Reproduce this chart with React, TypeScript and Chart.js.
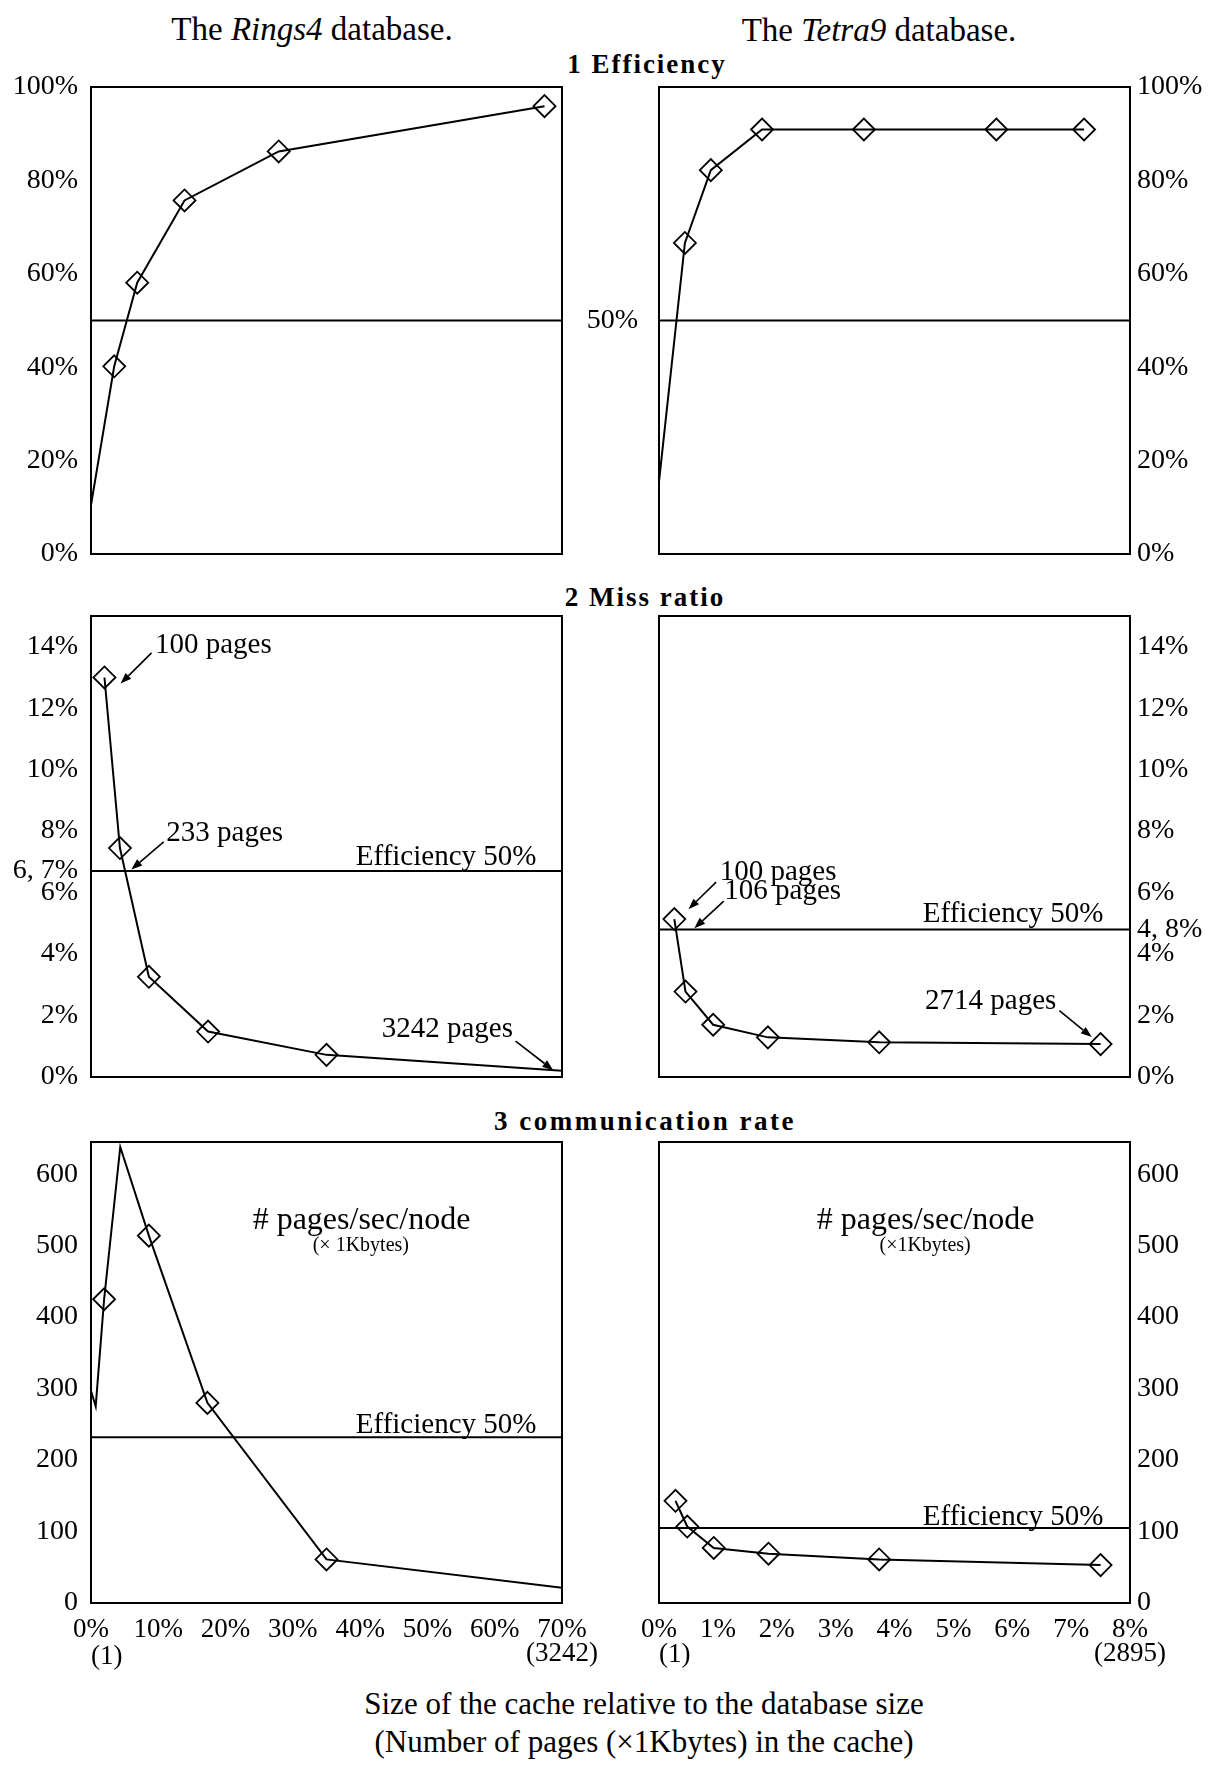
import React, { useEffect, useRef } from 'react';
import { Chart, registerables } from 'chart.js';

Chart.register(...registerables);

const SERIF = "'Liberation Serif', 'Times New Roman', serif";
const INK = '#000';

// ---------- Rings4 database (left column); x = cache size in % of database ----------
const rings4EffX = [0, 3.45, 6.87, 13.9, 27.9, 67.4];
const rings4EffY = [10.5, 40.2, 58.1, 75.7, 86.2, 95.9];
const rings4EffMarks = [false, true, true, true, true, true];

const rings4MissX = [2.0, 4.3, 8.6, 17.4, 35.0, 70];
const rings4MissY = [13.0, 7.45, 3.26, 1.48, 0.72, 0.2];
const rings4MissMarks = [true, true, true, true, true, false];

const rings4CommX = [0, 0.7, 1.95, 4.35, 8.6, 17.3, 35.0, 70];
const rings4CommY = [297, 275, 425, 638, 514, 280, 61, 21.5];
const rings4CommMarks = [false, false, true, false, true, true, true, false];

// ---------- Tetra9 database (right column) ----------
const tetra9EffX = [0, 0.44, 0.88, 1.75, 3.48, 5.73, 7.22];
const tetra9EffY = [15.5, 66.6, 82.2, 90.9, 90.9, 90.9, 90.9];
const tetra9EffMarks = [false, true, true, true, true, true, true];

const tetra9MissX = [0.26, 0.45, 0.92, 1.85, 3.74, 7.5];
const tetra9MissY = [5.14, 2.78, 1.7, 1.29, 1.13, 1.07];
const tetra9MissMarks = [true, true, true, true, true, true];

const tetra9CommX = [0.28, 0.48, 0.93, 1.86, 3.74, 7.5];
const tetra9CommY = [143, 107, 77, 69, 61, 53];
const tetra9CommMarks = [true, true, true, true, true, true];

// ---------- "Efficiency 50%" reference levels ----------
const rings4EffLevel = 50;
const tetra9EffLevel = 50;
const rings4MissLevel = 6.7;
const tetra9MissLevel = 4.8;
const rings4CommLevel = 232;
const tetra9CommLevel = 105;

// ---------- axes ----------
const rings4XMax = 70;
const tetra9XMax = 8;
const effMax = 100;
const missMax = 15;
const commMax = 645;

const effTicks = [0, 20, 40, 60, 80, 100];
const rings4MissTicks = [0, 2, 4, 6, 6.7, 8, 10, 12, 14];
const tetra9MissTicks = [0, 2, 4, 4.8, 6, 8, 10, 12, 14];
const commTicks = [0, 100, 200, 300, 400, 500, 600];
const rings4XTicks = [0, 10, 20, 30, 40, 50, 60, 70];
const tetra9XTicks = [0, 1, 2, 3, 4, 5, 6, 7, 8];

const pct = (v: number) => (v === 6.7 ? '6, 7%' : v === 4.8 ? '4, 8%' : `${v}%`);
const plain = (v: number) => `${v}`;

// ---------- panel geometry ----------
const COLS: any = {
  left: { left: 0, width: 620, padLeft: 0, padRight: 58, axisW: 91, side: 'left', tickPad: 13 },
  right: { left: 570, width: 638, padLeft: 89, padRight: 0, axisW: 78, side: 'right', tickPad: 7 },
};
const ROWS: any = {
  eff: { top: 70, height: 500, padTop: 17, padBottom: 16, xAxisH: 0 },
  miss: { top: 600, height: 500, padTop: 16, padBottom: 23, xAxisH: 0 },
  comm: { top: 1125, height: 560, padTop: 17, padBottom: 22, xAxisH: 60 },
};

const ANN = 29;

type Txt = { t: string; x: number; y?: number; below?: number; align: CanvasTextAlign; size?: number; dx?: number };
type Arrow = [number, number, number, number];

type PanelDef = {
  col: 'left' | 'right';
  row: 'eff' | 'miss' | 'comm';
  xs: number[];
  ys: number[];
  marks: boolean[];
  level: number;
  xMax: number;
  yMax: number;
  yTicks: number[];
  yLabel: (v: number) => string;
  xTicks?: number[];
  texts: Txt[];
  arrows: Arrow[];
};

const PANELS: PanelDef[] = [
  {
    col: 'left', row: 'eff', xs: rings4EffX, ys: rings4EffY, marks: rings4EffMarks, level: rings4EffLevel,
    xMax: rings4XMax, yMax: effMax, yTicks: effTicks, yLabel: pct, texts: [], arrows: [],
  },
  {
    col: 'right', row: 'eff', xs: tetra9EffX, ys: tetra9EffY, marks: tetra9EffMarks, level: tetra9EffLevel,
    xMax: tetra9XMax, yMax: effMax, yTicks: effTicks, yLabel: pct,
    texts: [{ t: '50%', x: 0, y: 50, align: 'right', dx: -21, size: 28 }], arrows: [],
  },
  {
    col: 'left', row: 'miss', xs: rings4MissX, ys: rings4MissY, marks: rings4MissMarks, level: rings4MissLevel,
    xMax: rings4XMax, yMax: missMax, yTicks: rings4MissTicks, yLabel: pct,
    texts: [
      { t: '100 pages', x: 9.5, y: 14.05, align: 'left' },
      { t: '233 pages', x: 11.2, y: 7.94, align: 'left' },
      { t: 'Efficiency 50%', x: 66.2, y: 7.15, align: 'right' },
      { t: '3242 pages', x: 43.2, y: 1.54, align: 'left' },
    ],
    arrows: [
      [9.0, 13.8, 4.4, 12.8],
      [10.8, 7.65, 6.0, 6.75],
      [63.1, 1.17, 68.7, 0.22],
    ],
  },
  {
    col: 'right', row: 'miss', xs: tetra9MissX, ys: tetra9MissY, marks: tetra9MissMarks, level: tetra9MissLevel,
    xMax: tetra9XMax, yMax: missMax, yTicks: tetra9MissTicks, yLabel: pct,
    texts: [
      { t: '100 pages', x: 1.03, y: 6.66, align: 'left' },
      { t: '106 pages', x: 1.11, y: 6.04, align: 'left' },
      { t: 'Efficiency 50%', x: 7.55, y: 5.3, align: 'right' },
      { t: '2714 pages', x: 4.52, y: 2.45, align: 'left' },
    ],
    arrows: [
      [0.97, 6.34, 0.5, 5.46],
      [1.1, 5.72, 0.6, 4.84],
      [6.8, 2.16, 7.35, 1.3],
    ],
  },
  {
    col: 'left', row: 'comm', xs: rings4CommX, ys: rings4CommY, marks: rings4CommMarks, level: rings4CommLevel,
    xMax: rings4XMax, yMax: commMax, yTicks: commTicks, yLabel: plain, xTicks: rings4XTicks,
    texts: [
      { t: '# pages/sec/node', x: 40.2, y: 535, align: 'center', size: 32 },
      { t: '(× 1Kbytes)', x: 40.1, y: 500, align: 'center', size: 20 },
      { t: 'Efficiency 50%', x: 66.2, y: 248, align: 'right' },
      { t: '(1)', x: 0, below: 54, align: 'left', size: 27 },
      { t: '(3242)', x: 70, below: 51, align: 'center', size: 27 },
    ],
    arrows: [],
  },
  {
    col: 'right', row: 'comm', xs: tetra9CommX, ys: tetra9CommY, marks: tetra9CommMarks, level: tetra9CommLevel,
    xMax: tetra9XMax, yMax: commMax, yTicks: commTicks, yLabel: plain, xTicks: tetra9XTicks,
    texts: [
      { t: '# pages/sec/node', x: 4.53, y: 535, align: 'center', size: 32 },
      { t: '(×1Kbytes)', x: 4.52, y: 500, align: 'center', size: 20 },
      { t: 'Efficiency 50%', x: 7.55, y: 120, align: 'right' },
      { t: '(1)', x: 0, below: 52, align: 'left', size: 27 },
      { t: '(2895)', x: 8, below: 51, align: 'center', size: 27 },
    ],
    arrows: [],
  },
];

const decoPlugin = {
  id: 'panelDeco',
  afterDatasetsDraw(chart: any, _args: any, opts: any) {
    const { ctx, chartArea: a, scales } = chart;
    const xs = scales.x;
    const ys = scales.y;
    ctx.save();
    ctx.strokeStyle = INK;
    ctx.lineWidth = 2;
    ctx.strokeRect(a.left, a.top, a.right - a.left, a.bottom - a.top);

    ctx.fillStyle = INK;
    ctx.textBaseline = 'middle';
    for (const tx of (opts.texts || []) as Txt[]) {
      ctx.font = `${tx.size || ANN}px ${SERIF}`;
      ctx.textAlign = tx.align;
      const px = xs.getPixelForValue(tx.x) + (tx.dx || 0);
      const py = tx.below !== undefined ? a.bottom + tx.below : ys.getPixelForValue(tx.y);
      ctx.fillText(tx.t, px, py);
    }

    ctx.lineWidth = 1.6;
    for (const [x1, y1, x2, y2] of (opts.arrows || []) as Arrow[]) {
      const p1x = xs.getPixelForValue(x1);
      const p1y = ys.getPixelForValue(y1);
      const p2x = xs.getPixelForValue(x2);
      const p2y = ys.getPixelForValue(y2);
      const ang = Math.atan2(p2y - p1y, p2x - p1x);
      const len = 11;
      const hw = 4;
      const bx = p2x - Math.cos(ang) * len;
      const by = p2y - Math.sin(ang) * len;
      ctx.beginPath();
      ctx.moveTo(p1x, p1y);
      ctx.lineTo(bx, by);
      ctx.stroke();
      ctx.beginPath();
      ctx.moveTo(p2x, p2y);
      ctx.lineTo(bx - Math.sin(ang) * hw, by + Math.cos(ang) * hw);
      ctx.lineTo(bx + Math.sin(ang) * hw, by - Math.cos(ang) * hw);
      ctx.closePath();
      ctx.fill();
    }
    ctx.restore();
  },
};

function buildConfig(p: PanelDef): any {
  const col = COLS[p.col];
  const row = ROWS[p.row];
  const showX = !!p.xTicks;
  return {
    type: 'line',
    data: {
      datasets: [
        {
          data: p.xs.map((x, i) => ({ x, y: p.ys[i] })),
          borderColor: INK,
          borderWidth: 2,
          tension: 0,
          fill: false,
          pointStyle: 'rectRot',
          pointRadius: p.marks.map((m) => (m ? 11 : 0)),
          pointHoverRadius: p.marks.map((m) => (m ? 11 : 0)),
          pointBorderColor: INK,
          pointBorderWidth: 1.8,
          pointBackgroundColor: 'rgba(0,0,0,0)',
        },
        {
          data: [
            { x: 0, y: p.level },
            { x: p.xMax, y: p.level },
          ],
          borderColor: INK,
          borderWidth: 2,
          pointRadius: 0,
          pointHoverRadius: 0,
        },
      ],
    },
    options: {
      animation: false,
      responsive: false,
      maintainAspectRatio: false,
      events: [],
      layout: {
        padding: { left: col.padLeft, right: col.padRight, top: row.padTop, bottom: row.padBottom },
      },
      plugins: {
        legend: { display: false },
        tooltip: { enabled: false },
        panelDeco: { texts: p.texts, arrows: p.arrows },
      },
      scales: {
        x: {
          type: 'linear',
          min: 0,
          max: p.xMax,
          display: showX,
          position: 'bottom',
          grid: { display: false, drawTicks: false },
          border: { display: false },
          ticks: {
            autoSkip: false,
            maxRotation: 0,
            minRotation: 0,
            padding: 11,
            color: INK,
            font: { family: SERIF, size: 27 },
            callback: (v: number) => `${v}%`,
          },
          afterBuildTicks: (s: any) => {
            s.ticks = (p.xTicks || []).map((v) => ({ value: v }));
          },
          afterFit: (s: any) => {
            s.height = row.xAxisH;
            s.paddingLeft = 0;
            s.paddingRight = 0;
          },
        },
        y: {
          type: 'linear',
          min: 0,
          max: p.yMax,
          position: col.side,
          grid: { display: false, drawTicks: false },
          border: { display: false },
          ticks: {
            autoSkip: false,
            padding: col.tickPad,
            color: INK,
            font: { family: SERIF, size: 28 },
            callback: (v: number) => p.yLabel(v),
          },
          afterBuildTicks: (s: any) => {
            s.ticks = p.yTicks.map((v) => ({ value: v }));
          },
          afterFit: (s: any) => {
            s.width = col.axisW;
            s.paddingTop = 0;
            s.paddingBottom = 0;
          },
        },
      },
    },
    plugins: [decoPlugin],
  };
}

function Panel({ def }: { def: PanelDef }) {
  const ref = useRef<HTMLCanvasElement>(null);
  const col = COLS[def.col];
  const row = ROWS[def.row];
  useEffect(() => {
    const chart = new Chart(ref.current as HTMLCanvasElement, buildConfig(def));
    return () => chart.destroy();
  }, [def]);
  return (
    <canvas
      ref={ref}
      width={col.width}
      height={row.height}
      style={{ position: 'absolute', left: col.left, top: row.top, width: col.width, height: row.height }}
    />
  );
}

function Label({ cx, cy, size, bold, spacing, children }: any) {
  return (
    <div
      style={{
        position: 'absolute',
        left: cx - 450,
        width: 900,
        top: cy - size * 0.6,
        height: size * 1.2,
        lineHeight: `${size * 1.2}px`,
        fontSize: size,
        fontWeight: bold ? 'bold' : 'normal',
        letterSpacing: spacing ? `${spacing}px` : undefined,
        textAlign: 'center',
        whiteSpace: 'nowrap',
        fontFamily: SERIF,
        color: INK,
      }}
    >
      {children}
    </div>
  );
}

export default function App() {
  return (
    <div style={{ position: 'absolute', left: 0, top: 0, width: 1208, height: 1766, background: '#fff', overflow: 'hidden' }}>
      <Label cx={312} cy={30} size={33}>
        The <i>Rings4</i> database.
      </Label>
      <Label cx={879} cy={31} size={33}>
        The <i>Tetra9</i> database.
      </Label>
      <Label cx={647} cy={64} size={27} bold spacing={2}>
        1 Efficiency
      </Label>
      <Label cx={645} cy={597} size={27} bold spacing={2}>
        2 Miss ratio
      </Label>
      <Label cx={645} cy={1121} size={27} bold spacing={2.5}>
        3 communication rate
      </Label>
      {PANELS.map((d, i) => (
        <Panel key={i} def={d} />
      ))}
      <Label cx={644} cy={1704} size={31}>
        Size of the cache relative to the database size
      </Label>
      <Label cx={644} cy={1742} size={31}>
        (Number of pages (×1Kbytes) in the cache)
      </Label>
    </div>
  );
}
